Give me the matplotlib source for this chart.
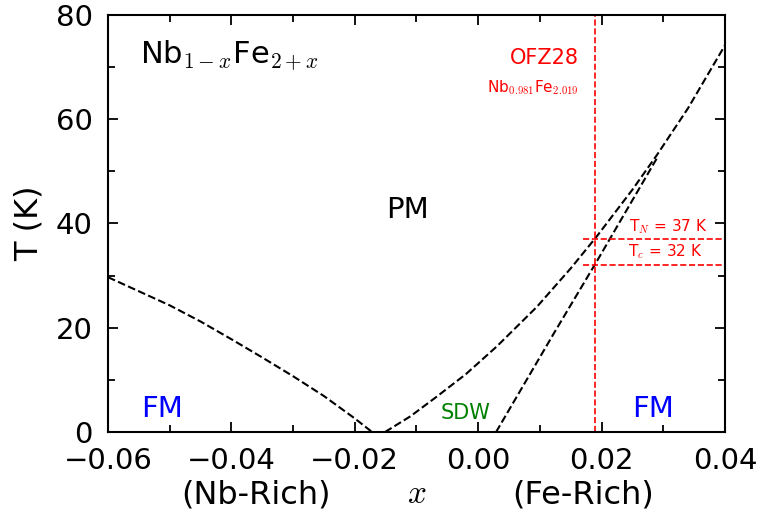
import matplotlib
matplotlib.use("Agg")
import matplotlib.pyplot as plt
from matplotlib.ticker import MultipleLocator

plt.rcParams['mathtext.fontset'] = 'cm'

# Nb-rich FM / PM boundary
x_nb = [-0.060, -0.055, -0.050, -0.045, -0.040, -0.035, -0.030, -0.025, -0.020, -0.0172]
T_nb = [29.7, 27.0, 24.3, 21.2, 17.8, 14.3, 10.7, 6.9, 2.6, 0.0]

# PM / SDW (and PM / FM) boundary
x_pm = [-0.0151, -0.0110, -0.0067, -0.0020, 0.0030, 0.0095, 0.0150, 0.0192, 0.0250, 0.0290, 0.0340, 0.0400]
T_pm = [0.0, 3.0, 6.8, 11.1, 16.4, 24.0, 31.4, 37.5, 46.5, 53.2, 62.1, 74.2]

# SDW / FM boundary
x_sf = [0.0029, 0.0122, 0.0192, 0.0291]
T_sf = [0.0, 18.8, 32.7, 52.8]

x_sample = 0.019
T_N = 37
T_c = 32

fig = plt.figure(figsize=(7.61, 5.17), dpi=100)
ax = fig.add_axes([0.1419, 0.1644, 0.8108, 0.8066])

ax.plot(x_nb, T_nb, 'k--', lw=1.5)
ax.plot(x_pm, T_pm, 'k--', lw=1.5)
ax.plot(x_sf, T_sf, 'k--', lw=1.5)

ax.axvline(x_sample, color='red', ls='--', lw=1.2)
ax.plot([0.017, 0.04], [T_N, T_N], color='red', ls='--', lw=1.2)
ax.plot([0.017, 0.04], [T_c, T_c], color='red', ls='--', lw=1.2)

ax.text(0.0308, 39.4, r'T$_N$ = 37 K', color='red', fontsize=11, ha='center', va='center')
ax.text(0.0304, 34.6, r'T$_c$ = 32 K', color='red', fontsize=11, ha='center', va='center')
ax.text(0.0163, 71.8, 'OFZ28', color='red', fontsize=15, ha='right', va='center')
ax.text(0.0163, 66.0, r'Nb$_{0.981}$Fe$_{2.019}$', color='red', fontsize=11, ha='right', va='center')

ax.text(-0.0548, 72.3, r'Nb$_{1-x}$Fe$_{2+x}$', fontsize=22, ha='left', va='center')
ax.text(-0.0114, 42.6, 'PM', fontsize=21, ha='center', va='center')
ax.text(-0.0512, 4.5, 'FM', color='blue', fontsize=21, ha='center', va='center')
ax.text(0.0284, 4.5, 'FM', color='blue', fontsize=21, ha='center', va='center')
ax.text(-0.0020, 3.6, 'SDW', color='green', fontsize=15, ha='center', va='center')

ax.set_xlim(-0.06, 0.04)
ax.set_ylim(0, 80)
ax.xaxis.set_major_locator(MultipleLocator(0.02))
ax.xaxis.set_minor_locator(MultipleLocator(0.01))
ax.yaxis.set_major_locator(MultipleLocator(20))
ax.yaxis.set_minor_locator(MultipleLocator(10))
ax.tick_params(which='both', direction='in', top=True, right=True, labelsize=21, width=1.3, pad=11)
ax.tick_params(which='major', length=7.5)
ax.tick_params(which='minor', length=5)
ax.xaxis.set_major_formatter(plt.FuncFormatter(lambda v, p: f'{v:.2f}'.replace('-', '\u2212')))
for s in ax.spines.values():
    s.set_linewidth(1.5)

ax.set_ylabel('T (K)', fontsize=23)
ax.yaxis.set_label_coords(-0.102, 0.5)
ax.set_xlabel('$x$', fontsize=24)
ax.xaxis.set_label_coords(0.5, -0.148)
ax.xaxis.label.set_va('center')
ax.text(0.24, -0.151, '(Nb-Rich)', transform=ax.transAxes, fontsize=23, ha='center', va='center')
ax.text(0.77, -0.151, '(Fe-Rich)', transform=ax.transAxes, fontsize=23, ha='center', va='center')

fig.savefig('out.png', dpi=100)
